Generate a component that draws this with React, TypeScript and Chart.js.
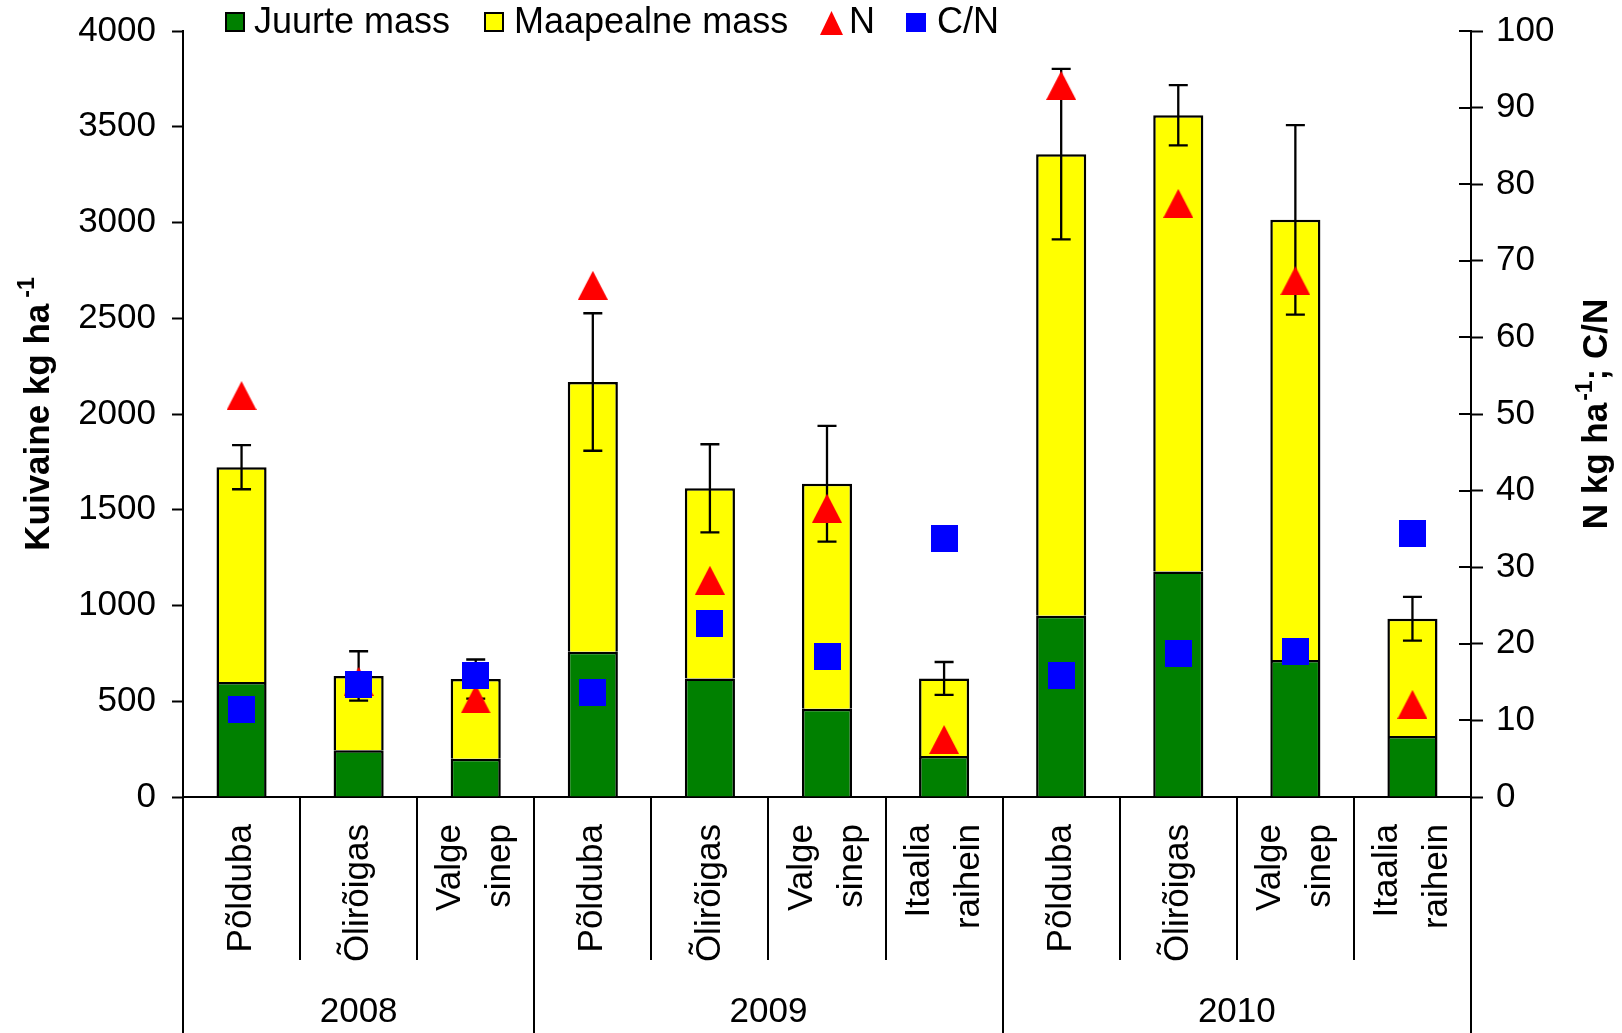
import React, { useEffect, useRef } from "react";
import { Chart, registerables } from "chart.js";

Chart.register(...registerables);

// ---------- data ----------
const categories: (string | string[])[] = [
  "Põlduba", "Õlirõigas", ["Valge", "sinep"],
  "Põlduba", "Õlirõigas", ["Valge", "sinep"], ["Itaalia", "raihein"],
  "Põlduba", "Õlirõigas", ["Valge", "sinep"], ["Itaalia", "raihein"],
];
const years = ["2008", "2009", "2010"];
const yearSpans = [3, 4, 4];

const juurteMass = [601, 244, 200, 759, 619, 461, 214, 946, 1177, 716, 318];
const maapealneMass = [1121, 388, 416, 1408, 993, 1175, 405, 2411, 2383, 2298, 613];
const totalError = [115, 129, 102, 359, 230, 302, 86, 445, 157, 495, 114];
const nValues = [52.4, 15.1, 12.8, 66.8, 28.3, 37.7, 7.5, 92.9, 77.5, 67.4, 12.1];
const cnValues = [11.4, 14.7, 15.8, 13.7, 22.6, 18.3, 33.8, 15.8, 18.7, 19.0, 34.4];

const legendLabels = ["Juurte mass", "Maapealne mass", "N", "C/N"];
const leftTitle = ["Kuivaine kg ha", "-1", ""];
const rightTitle = ["N kg ha", "-1", "; C/N"];

// ---------- style ----------
const W = 1622;
const H = 1033;
const FONT = "'Liberation Sans', Arial, Helvetica, sans-serif";
const FS = 35;
const GREEN = "#008000";
const YELLOW = "#FFFF00";
const RED = "#FF0000";
const BLUE = "#0000FF";
const TOP = 31;

function makeTriangle(w: number, h: number, color: string) {
  const c = document.createElement("canvas");
  c.width = w;
  c.height = h;
  const g = c.getContext("2d")!;
  g.fillStyle = color;
  g.beginPath();
  g.moveTo(0, h);
  g.lineTo(w / 2, 0);
  g.lineTo(w, h);
  g.closePath();
  g.fill();
  return c;
}
function makeSquare(s: number, color: string) {
  const c = document.createElement("canvas");
  c.width = s;
  c.height = s;
  const g = c.getContext("2d")!;
  g.fillStyle = color;
  g.fillRect(0, 0, s, s);
  return c;
}

function drawRotatedRich(ctx: CanvasRenderingContext2D, cx: number, cy: number, parts: string[], gap: number) {
  const mainFont = `bold ${FS}px ${FONT}`;
  const supFont = `bold 23px ${FONT}`;
  ctx.save();
  ctx.font = mainFont;
  const w0 = ctx.measureText(parts[0]).width;
  const w2 = ctx.measureText(parts[2]).width;
  ctx.font = supFont;
  const w1 = ctx.measureText(parts[1]).width;
  const total = w0 + gap + w1 + w2;
  ctx.translate(cx, cy);
  ctx.rotate(-Math.PI / 2);
  ctx.fillStyle = "#000";
  ctx.textBaseline = "middle";
  ctx.textAlign = "left";
  let x = -total / 2;
  ctx.font = mainFont;
  ctx.fillText(parts[0], x, 0);
  x += w0 + gap;
  ctx.font = supFont;
  ctx.fillText(parts[1], x, -11);
  x += w1;
  ctx.font = mainFont;
  ctx.fillText(parts[2], x, 0);
  ctx.restore();
}

const decorPlugin = {
  id: "decor",
  afterDatasetDraw(chart: any, args: any) {
    if (args.index !== 0) return;
    const ctx = chart.ctx as CanvasRenderingContext2D;
    const xs = chart.scales.x;
    const ys = chart.scales.y;
    ctx.save();
    ctx.strokeStyle = "#000";
    ctx.lineWidth = 2.3;
    for (let i = 0; i < categories.length; i++) {
      const total = juurteMass[i] + maapealneMass[i];
      const x = xs.getPixelForValue(i);
      const yt = ys.getPixelForValue(total + totalError[i]);
      const yb = ys.getPixelForValue(total - totalError[i]);
      ctx.beginPath();
      ctx.moveTo(x, yt);
      ctx.lineTo(x, yb);
      ctx.moveTo(x - 9.5, yt);
      ctx.lineTo(x + 9.5, yt);
      ctx.moveTo(x - 9.5, yb);
      ctx.lineTo(x + 9.5, yb);
      ctx.stroke();
    }
    ctx.restore();
  },
  afterDraw(chart: any) {
    const ctx = chart.ctx as CanvasRenderingContext2D;
    const xs = chart.scales.x;
    const y1 = chart.scales.y1;
    const area = chart.chartArea;
    const catW = (area.right - area.left) / categories.length;
    ctx.save();
    ctx.strokeStyle = "#000";
    ctx.fillStyle = "#000";
    ctx.lineWidth = 2;

    // inner halves of right-axis ticks
    ctx.beginPath();
    for (const t of y1.ticks) {
      const y = Math.round(y1.getPixelForValue(t.value));
      ctx.moveTo(area.right - 12, y);
      ctx.lineTo(area.right, y);
    }
    ctx.stroke();

    // category dividers
    const yearBounds: number[] = [0];
    yearSpans.forEach((s) => yearBounds.push(yearBounds[yearBounds.length - 1] + s));
    ctx.beginPath();
    for (let k = 0; k <= categories.length; k++) {
      const x = Math.round(area.left + k * catW);
      const long = yearBounds.includes(k);
      ctx.moveTo(x, area.bottom);
      ctx.lineTo(x, long ? H : 960);
    }
    ctx.stroke();

    // category labels
    ctx.font = `${FS}px ${FONT}`;
    ctx.textBaseline = "middle";
    ctx.textAlign = "right";
    categories.forEach((c, i) => {
      const lines = Array.isArray(c) ? c : [c];
      const cx = xs.getPixelForValue(i);
      lines.forEach((ln, j) => {
        const lx = cx + (j - (lines.length - 1) / 2) * 50;
        ctx.save();
        ctx.translate(lx, 824);
        ctx.rotate(-Math.PI / 2);
        ctx.fillText(ln, 0, 0);
        ctx.restore();
      });
    });

    // year labels
    ctx.textAlign = "center";
    years.forEach((yr, g) => {
      const mid = area.left + ((yearBounds[g] + yearBounds[g + 1]) / 2) * catW;
      ctx.fillText(yr, mid, 1012);
    });

    // axis titles
    drawRotatedRich(ctx, 39, (area.top + area.bottom) / 2, leftTitle, 6);
    drawRotatedRich(ctx, 1597, (area.top + area.bottom) / 2, rightTitle, 2);

    // legend
    ctx.font = `36px ${FONT}`;
    ctx.textAlign = "left";
    ctx.textBaseline = "middle";
    const ly = 23;
    ctx.lineWidth = 2;
    ctx.fillStyle = GREEN;
    ctx.fillRect(226, 13, 18, 18);
    ctx.strokeRect(226, 13, 18, 18);
    ctx.fillStyle = "#000";
    ctx.fillText(legendLabels[0], 254, ly);
    ctx.fillStyle = YELLOW;
    ctx.fillRect(485, 13, 18, 18);
    ctx.strokeRect(485, 13, 18, 18);
    ctx.fillStyle = "#000";
    ctx.fillText(legendLabels[1], 514, ly);
    ctx.fillStyle = RED;
    ctx.beginPath();
    ctx.moveTo(820, 35);
    ctx.lineTo(831.5, 11);
    ctx.lineTo(843, 35);
    ctx.closePath();
    ctx.fill();
    ctx.fillStyle = "#000";
    ctx.fillText(legendLabels[2], 849, ly);
    ctx.fillStyle = BLUE;
    ctx.fillRect(906, 13, 20, 19);
    ctx.fillStyle = "#000";
    ctx.fillText(legendLabels[3], 937, ly);

    ctx.restore();
  },
};

export default function App() {
  const ref = useRef<HTMLCanvasElement>(null);
  useEffect(() => {
    const canvas = ref.current!;
    const tri = makeTriangle(30, 29, RED);
    const sq = makeSquare(27, BLUE);
    const chart = new Chart(canvas, {
      type: "bar",
      data: {
        labels: categories.map((c) => (Array.isArray(c) ? c.join(" ") : c)),
        datasets: [
          {
            label: legendLabels[0],
            data: juurteMass,
            backgroundColor: GREEN,
            borderColor: "#000",
            borderWidth: 2.5,
            stack: "mass",
            order: 2,
            barPercentage: 0.428,
            categoryPercentage: 1,
            yAxisID: "y",
          },
          {
            label: legendLabels[1],
            data: maapealneMass,
            backgroundColor: YELLOW,
            borderColor: "#000",
            borderWidth: 2.5,
            stack: "mass",
            order: 3,
            barPercentage: 0.428,
            categoryPercentage: 1,
            yAxisID: "y",
          },
          {
            type: "line",
            label: legendLabels[2],
            data: nValues,
            showLine: false,
            pointStyle: tri,
            pointRadius: 15,
            order: 1,
            yAxisID: "y1",
          } as any,
          {
            type: "line",
            label: legendLabels[3],
            data: cnValues,
            showLine: false,
            pointStyle: sq,
            pointRadius: 14,
            order: 0,
            yAxisID: "y1",
          } as any,
        ],
      },
      options: {
        responsive: false,
        animation: false,
        devicePixelRatio: 1,
        layout: { padding: { top: TOP, left: 0, right: 0, bottom: 0 } },
        plugins: { legend: { display: false }, tooltip: { enabled: false } },
        scales: {
          x: {
            stacked: true,
            ticks: { display: false },
            grid: { display: false },
            border: { display: true, color: "#000", width: 2 },
            afterFit: (s: any) => { s.height = 236; },
          },
          y: {
            stacked: true,
            position: "left",
            min: 0,
            max: 4000,
            ticks: {
              stepSize: 500,
              autoSkip: false,
              padding: 16,
              color: "#000",
              font: { family: FONT, size: FS },
              callback: (v: any) => String(v),
            },
            grid: {
              display: true,
              drawOnChartArea: false,
              drawTicks: true,
              tickLength: 11,
              tickColor: "#000",
              tickWidth: 2,
            },
            border: { display: true, color: "#000", width: 2 },
            afterFit: (s: any) => { s.width = 183; s.paddingTop = 0; },
          },
          y1: {
            position: "right",
            min: 0,
            max: 100,
            ticks: {
              stepSize: 10,
              autoSkip: false,
              padding: 13,
              color: "#000",
              font: { family: FONT, size: FS },
              callback: (v: any) => String(v),
            },
            grid: {
              display: true,
              drawOnChartArea: false,
              drawTicks: true,
              tickLength: 12,
              tickColor: "#000",
              tickWidth: 2,
            },
            border: { display: true, color: "#000", width: 2 },
            afterFit: (s: any) => { s.width = 151; s.paddingTop = 0; },
          },
        },
      } as any,
      plugins: [decorPlugin],
    });
    return () => chart.destroy();
  }, []);
  return (
    <div style={{ position: "absolute", left: 0, top: 0, width: W, height: H, background: "#fff" }}>
      <canvas ref={ref} width={W} height={H} style={{ display: "block", width: W, height: H }} />
    </div>
  );
}
